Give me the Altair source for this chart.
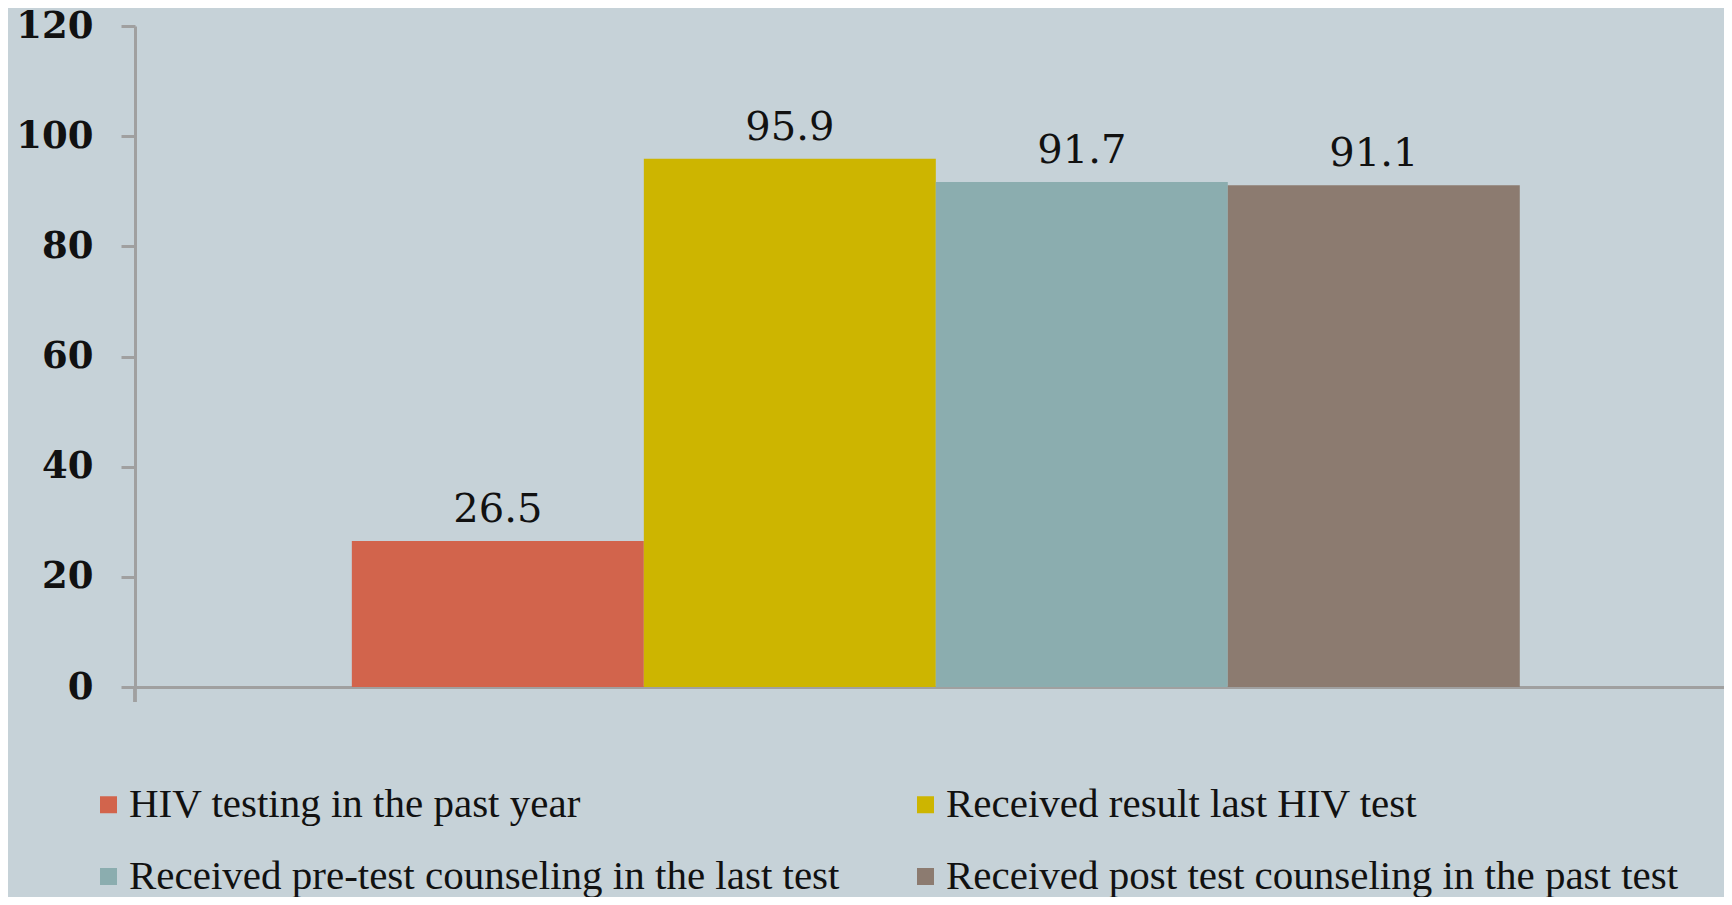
import altair as alt
import pandas as pd

categories = [
    "HIV testing in the past year",
    "Received result last HIV test",
    "Received pre-test counseling in the last test",
    "Received post test counseling in the past test",
]
values = [26.5, 95.9, 91.7, 91.1]
colors = ["#D2644C", "#CDB500", "#8BADAF", "#8C7B70"]
y_ticks = [0, 20, 40, 60, 80, 100, 120]

df = pd.DataFrame({"series": categories, "value": values,
                   "label": [f"{v:.1f}" for v in values]})

W, H = 1589, 661
AXIS_COLOR = "#A0A0A0"

x_enc = alt.X("series:N", sort=categories,
              scale=alt.Scale(paddingInner=0, paddingOuter=0.721, align=0.515),
              axis=alt.Axis(labels=False, ticks=False, title=None,
                            domainColor=AXIS_COLOR, domainWidth=3))
y_enc = alt.Y("value:Q", scale=alt.Scale(domain=[0, 120], nice=False),
              axis=alt.Axis(values=y_ticks, title=None, grid=False,
                            domainColor=AXIS_COLOR, domainWidth=3,
                            tickColor=AXIS_COLOR, tickWidth=3, tickSize=14,
                            labelFont="DejaVu Serif", labelFontSize=37,
                            labelFontWeight="bold",
                            labelColor="#111111", labelPadding=28))

bars = alt.Chart(df).mark_bar().encode(
    x=x_enc,
    y=y_enc,
    color=alt.Color("series:N", sort=categories,
                    scale=alt.Scale(domain=categories, range=colors),
                    legend=alt.Legend(orient="none", legendX=-47, legendY=758,
                                      direction="horizontal",
                                      columns=2, columnPadding=65, rowPadding=30,
                                      symbolType="square", symbolSize=289,
                                      symbolStrokeWidth=0,
                                      labelFont="Liberation Serif", labelFontSize=41,
                                      labelColor="#111111", labelOffset=0,
                                      labelLimit=0, title=None, padding=0)),
)

labels = alt.Chart(df).mark_text(font="DejaVu Serif", fontSize=40,
                                 baseline="alphabetic", dy=-19,
                                 color="#111111").encode(
    x=alt.X("series:N", sort=categories),
    y=alt.Y("value:Q"),
    text="label:N",
)

corner_tick = alt.Chart(df).mark_rule(color=AXIS_COLOR, strokeWidth=3).encode(
    x=alt.value(0), y=alt.value(H), y2=alt.value(H + 15))

chart = alt.layer(bars, labels, corner_tick).properties(
    width=W, height=H,
    autosize=alt.AutoSizeParams(type="none"),
    padding={"left": 127, "top": 18, "right": 0, "bottom": 210},
    background="#C6D2D8",
).configure_view(stroke=None)

chart.save("out.html", embed_options={"renderer": "svg", "actions": False})
